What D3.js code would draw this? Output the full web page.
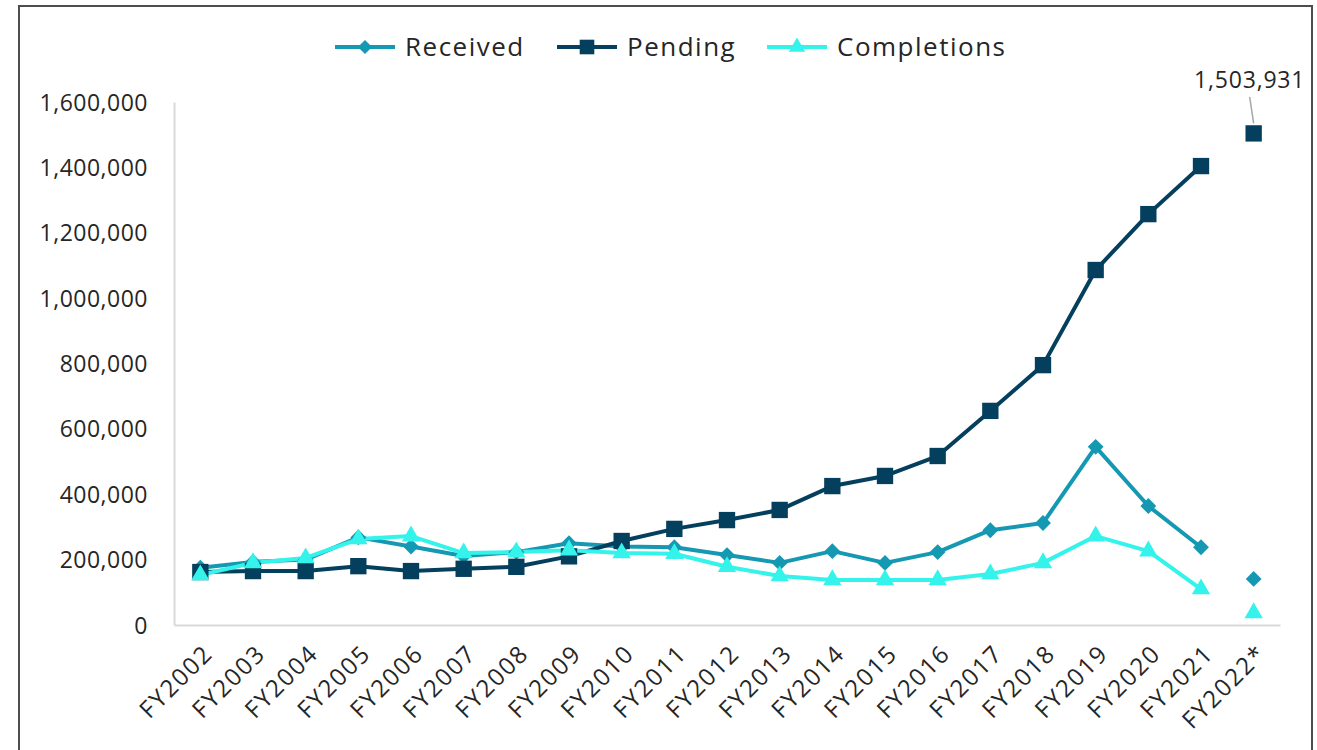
<!DOCTYPE html>
<html>
<head>
<meta charset="utf-8">
<script src="https://cdn.jsdelivr.net/npm/d3@7"></script>
<style>
  body { margin: 0; background: #fff; }
  svg text { font-family: "Open Sans", "DejaVu Sans", sans-serif; fill: #262626; }
</style>
</head>
<body>
<svg id="chart" width="1317" height="750"></svg>
<script>
const years = ['FY2002', 'FY2003', 'FY2004', 'FY2005', 'FY2006', 'FY2007', 'FY2008', 'FY2009', 'FY2010', 'FY2011',
  'FY2012', 'FY2013', 'FY2014', 'FY2015', 'FY2016', 'FY2017', 'FY2018', 'FY2019', 'FY2020', 'FY2021', 'FY2022*'];
const received = [175000, 193000, 200000, 268000, 240000, 211000, 223000, 250000, 240000, 238000,
  214000, 190000, 226000, 190000, 223000, 290000, 312000, 545000, 364000, 238000, 141000];
const pending = [162000, 165000, 165000, 180000, 165000, 172000, 178000, 210000, 257000, 294000,
  321000, 352000, 425000, 456000, 517000, 655000, 795000, 1086000, 1257000, 1404000, 1503931];
const completions = [153000, 190000, 205000, 263000, 272000, 220000, 223000, 229000, 220000, 218000,
  178000, 150000, 138000, 138000, 138000, 156000, 190000, 272000, 226000, 110000, 37000];
const yTicks = [0, 200000, 400000, 600000, 800000, 1000000, 1200000, 1400000, 1600000];

const series = [
  {name: 'Received', values: received, color: '#1598b2', symbol: d3.symbolDiamond2, size: 160},
  {name: 'Pending', values: pending, color: '#043f5e', symbol: d3.symbolSquare2, size: 340},
  {name: 'Completions', values: completions, color: '#33f3ea', symbol: d3.symbolTriangle2, size: 240}
];

const svg = d3.select('#chart');
const margin = {top: 102, left: 174, right: 1280, bottom: 625};

// frame
svg.append('rect').attr('x', 19).attr('y', 6).attr('width', 1293).attr('height', 760)
  .attr('fill', 'none').attr('stroke', '#4d4d4d').attr('stroke-width', 2);

const x = d3.scaleBand().domain(years).range([margin.left, margin.right]);
const cx = (d) => x(d) + x.bandwidth() / 2;
const y = d3.scaleLinear().domain([0, 1600000]).range([margin.bottom, margin.top]);

// axes
const yAxis = d3.axisLeft(y).tickValues(yTicks).tickSize(0).tickPadding(26).tickFormat(d3.format(','));
const yG = svg.append('g').attr('transform', `translate(${margin.left},0)`).call(yAxis);
yG.select('.domain').attr('stroke', '#d9d9d9').attr('stroke-width', 2);
yG.selectAll('text').attr('font-size', 23).attr('letter-spacing', 0.5)
  .attr('fill', '#262626').attr('dy', '0.35em');

const xAxis = d3.axisBottom(x).tickSize(0).tickSizeOuter(0);
const xG = svg.append('g').attr('transform', `translate(0,${margin.bottom})`).call(xAxis);
xG.select('.domain').attr('stroke', '#d9d9d9').attr('stroke-width', 2);
xG.selectAll('text')
  .attr('font-size', 24).attr('letter-spacing', 1.8).attr('fill', '#262626')
  .attr('text-anchor', 'end')
  .attr('transform', 'translate(8,24) rotate(-45)')
  .attr('x', 0).attr('y', 0).attr('dy', '0.35em');

// lines (FY2022* is shown as markers only)
const line = d3.line().x((d, i) => cx(years[i])).y((d) => y(d));
series.forEach((s) => {
  svg.append('path')
    .datum(s.values.slice(0, years.length - 1))
    .attr('fill', 'none').attr('stroke', s.color).attr('stroke-width', 4)
    .attr('stroke-linejoin', 'round')
    .attr('d', line);
});
series.forEach((s) => {
  svg.append('g').selectAll('path')
    .data(s.values).join('path')
    .attr('d', d3.symbol().type(s.symbol).size(s.size))
    .attr('transform', (d, i) => `translate(${cx(years[i])},${y(d)})`)
    .attr('fill', s.color);
});

// annotation for last pending value
const lastX = cx(years[years.length - 1]);
const lastY = y(pending[pending.length - 1]);
svg.append('line').attr('x1', lastX - 4).attr('y1', 97).attr('x2', lastX).attr('y2', lastY - 10)
  .attr('stroke', '#a6a6a6').attr('stroke-width', 1.5);
svg.append('text').attr('x', lastX - 4).attr('y', 88).attr('text-anchor', 'middle')
  .attr('font-size', 23).attr('letter-spacing', 0.8)
  .text(d3.format(',')(pending[pending.length - 1]));

// legend
const legendX = [335, 557, 767];
const legend = svg.append('g').selectAll('g').data(series).join('g')
  .attr('transform', (d, i) => `translate(${legendX[i]},47)`);
legend.append('line').attr('x1', 0).attr('x2', 60).attr('stroke', (d) => d.color).attr('stroke-width', 4);
legend.append('path')
  .attr('d', (d) => d3.symbol().type(d.symbol).size(d.size * 0.8)())
  .attr('transform', 'translate(30,0)')
  .attr('fill', (d) => d.color);
legend.append('text').attr('x', 70).attr('dy', '0.35em')
  .attr('font-size', 26).attr('letter-spacing', 1.5).text((d) => d.name);
</script>
</body>
</html>
